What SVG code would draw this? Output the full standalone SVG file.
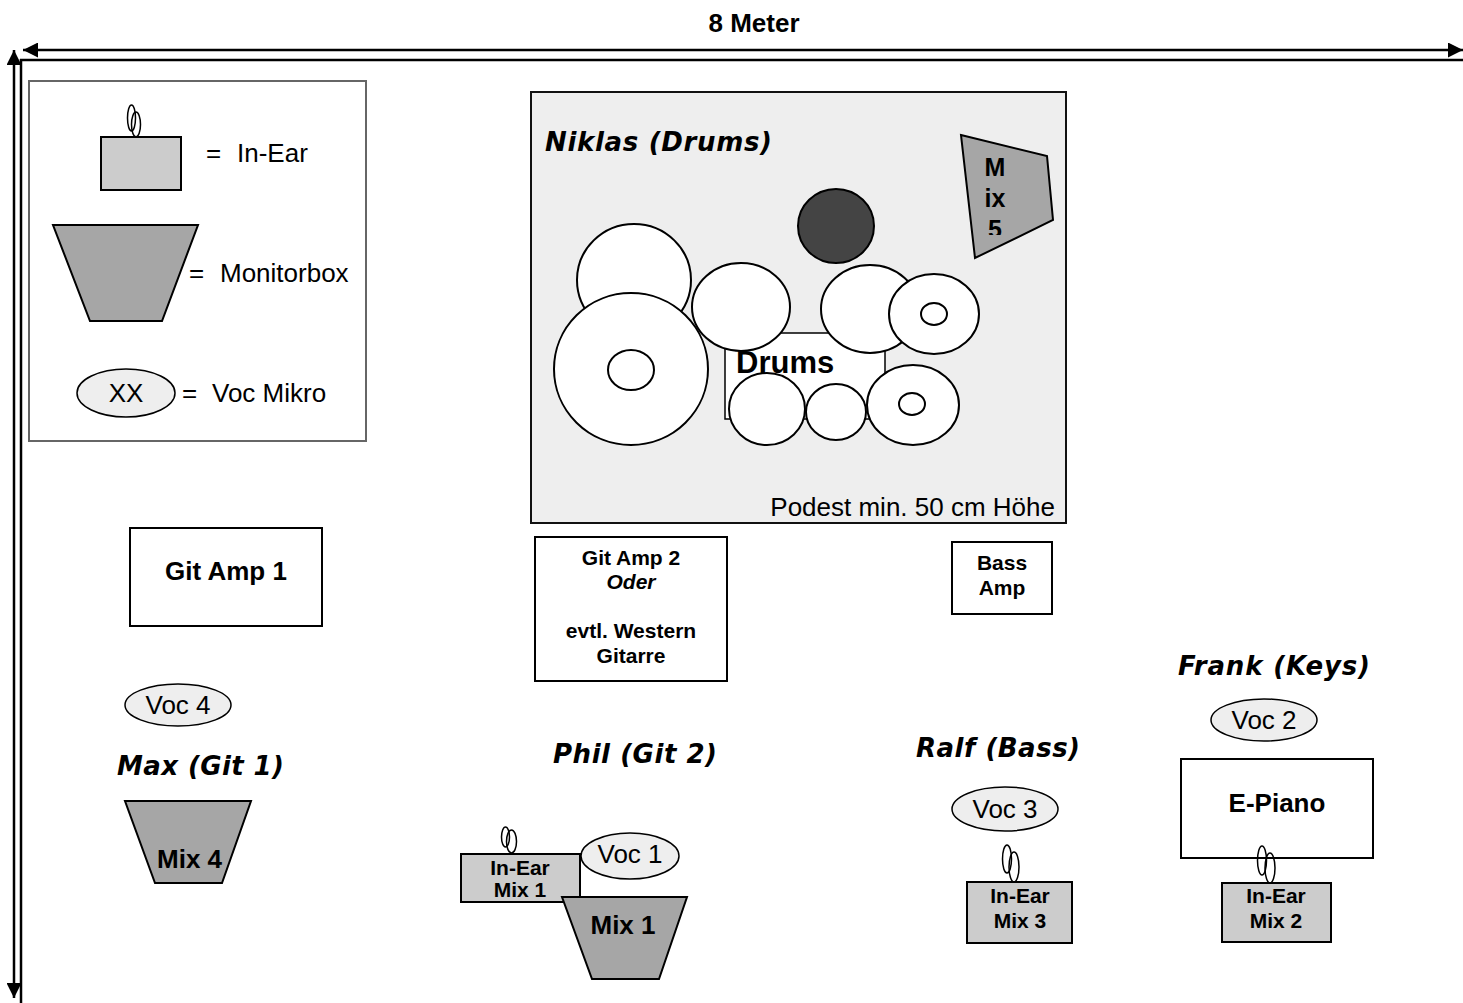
<svg xmlns="http://www.w3.org/2000/svg" width="1463" height="1003" viewBox="0 0 1463 1003">
<defs>
<marker id="arr" viewBox="0 0 10 10" refX="10" refY="5" markerWidth="15" markerHeight="15" markerUnits="userSpaceOnUse" orient="auto-start-reverse">
<path d="M0,0 L10,5 L0,10 z" fill="#000"/>
</marker>
<clipPath id="mix5text"><rect x="950" y="130" width="110" height="105"/></clipPath>
<style>
.box{fill:#fff;stroke:#000;stroke-width:2}
.inear{fill:#ccc;stroke:#000;stroke-width:2}
.mon{fill:#a6a6a6;stroke:#000;stroke-width:2}
.voc{fill:#eee;stroke:#000;stroke-width:1.5}
.drum{fill:#fff;stroke:#000;stroke-width:2}
.ear{fill:none;stroke:#000;stroke-width:1.5}
.t{font-family:"Liberation Sans",Arial,sans-serif;fill:#000;font-size:26px}
.b{font-weight:bold}
.c{text-anchor:middle}
.s21{font-size:21px}
.s25{font-size:25px}
.s31{font-size:31px}
.p{font-family:"DejaVu Sans",Verdana,sans-serif;font-weight:bold;font-style:italic;font-size:26px;fill:#000}
.dim{stroke:#000;stroke-width:2.5;fill:none}
</style>
</defs>
<rect width="1463" height="1003" fill="#fff"/>

<g id="dimensions">
<line class="dim" x1="23" y1="50" x2="1463" y2="50" marker-start="url(#arr)" marker-end="url(#arr)"/>
<line class="dim" x1="14" y1="50" x2="14" y2="998" marker-start="url(#arr)" marker-end="url(#arr)"/>
<line x1="20" y1="60" x2="1463" y2="60" stroke="#000" stroke-width="2.5"/>
<line x1="21" y1="59" x2="21" y2="1003" stroke="#000" stroke-width="2.5"/>
<text class="t b c" x="754" y="32">8 Meter</text>
</g>

<g id="legend">
<rect x="29" y="81" width="337" height="360" fill="#fff" stroke="#666" stroke-width="2"/>
<ellipse class="ear" cx="131.5" cy="118" rx="4" ry="13"/>
<ellipse class="ear" cx="136" cy="124.5" rx="4.5" ry="12.5"/>
<rect class="inear" x="101" y="137" width="80" height="53"/>
<text class="t" x="206" y="162">=</text>
<text class="t" x="237" y="162">In-Ear</text>
<polygon class="mon" points="53,225 198,225 162,321 90,321"/>
<text class="t" x="189" y="282">=</text>
<text class="t" x="220" y="282">Monitorbox</text>
<ellipse class="voc" cx="126" cy="393" rx="49" ry="24"/>
<text class="t c" x="126" y="402">XX</text>
<text class="t" x="182" y="402">=</text>
<text class="t" x="212" y="402">Voc Mikro</text>
</g>

<g id="drums">
<rect x="531" y="92" width="535" height="431" fill="#eee" stroke="#111" stroke-width="2"/>
<text class="p" x="545" y="151" textLength="227">Niklas (Drums)</text>
<ellipse cx="836" cy="226" rx="38" ry="37" fill="#444" stroke="#000" stroke-width="2"/>
<polygon class="mon" points="961,135 1047,156 1053,220 975,258"/>
<g clip-path="url(#mix5text)">
<text class="t b c s25" x="995" y="176">M</text>
<text class="t b c s25" x="995" y="207">ix</text>
<text class="t b c s25" x="995" y="238">5</text>
</g>
<ellipse class="drum" cx="634" cy="280" rx="57" ry="56"/>
<ellipse class="drum" cx="631" cy="369" rx="77" ry="76"/>
<ellipse class="drum" cx="631" cy="370" rx="23" ry="20"/>
<rect x="725" y="333" width="160" height="86" fill="#fff" stroke="#000" stroke-width="1.5"/>
<ellipse class="drum" cx="741" cy="307" rx="49" ry="44"/>
<ellipse class="drum" cx="870" cy="309" rx="49" ry="44"/>
<ellipse class="drum" cx="934" cy="314" rx="45" ry="40"/>
<ellipse class="drum" cx="934" cy="314" rx="13" ry="11"/>
<ellipse class="drum" cx="767" cy="409" rx="38" ry="36"/>
<ellipse class="drum" cx="836" cy="412" rx="30" ry="28"/>
<ellipse class="drum" cx="913" cy="405" rx="46" ry="40"/>
<ellipse class="drum" cx="912" cy="404" rx="13" ry="11"/>
<text class="t b s31" x="736" y="373">Drums</text>
<text class="t" x="1055" y="516" text-anchor="end">Podest min. 50 cm Höhe</text>
</g>

<g id="git-amp-1">
<rect class="box" x="130" y="528" width="192" height="98"/>
<text class="t b c" x="226" y="580">Git Amp 1</text>
</g>

<g id="git-amp-2">
<rect class="box" x="535" y="537" width="192" height="144"/>
<text class="t b c s21" x="631" y="565">Git Amp 2</text>
<text class="t b c s21" x="631" y="589" font-style="italic">Oder</text>
<text class="t b c s21" x="631" y="638">evtl. Western</text>
<text class="t b c s21" x="631" y="663">Gitarre</text>
</g>

<g id="bass-amp">
<rect class="box" x="952" y="542" width="100" height="72"/>
<text class="t b c s21" x="1002" y="570">Bass</text>
<text class="t b c s21" x="1002" y="595">Amp</text>
</g>

<g id="max">
<ellipse class="voc" cx="178" cy="705" rx="53" ry="21"/>
<text class="t c" x="178" y="714">Voc 4</text>
<text class="p" x="117" y="775" textLength="167">Max (Git 1)</text>
<polygon class="mon" points="125,801 251,801 222,883 155,883"/>
<text class="t b" x="157" y="868">Mix 4</text>
</g>

<g id="phil">
<text class="p" x="553" y="763" textLength="164">Phil (Git 2)</text>
<ellipse class="ear" cx="505.5" cy="837" rx="4" ry="10"/>
<ellipse class="ear" cx="511.5" cy="841.5" rx="5" ry="11.5"/>
<rect class="inear" x="461" y="854" width="119" height="48"/>
<text class="t b c s21" x="520" y="875">In-Ear</text>
<text class="t b c s21" x="520" y="897">Mix 1</text>
<ellipse class="voc" cx="630" cy="856" rx="49" ry="23"/>
<text class="t c" x="630" y="863">Voc 1</text>
<polygon class="mon" points="562,897 687,897 659,979 592,979"/>
<text class="t b c" x="623" y="934">Mix 1</text>
</g>

<g id="ralf">
<text class="p" x="916" y="757" textLength="164">Ralf (Bass)</text>
<ellipse class="voc" cx="1005" cy="809" rx="53" ry="22"/>
<text class="t c" x="1005" y="818">Voc 3</text>
<ellipse class="ear" cx="1007" cy="859" rx="4.5" ry="14"/>
<ellipse class="ear" cx="1014" cy="867" rx="5" ry="15"/>
<rect class="inear" x="967" y="882" width="105" height="61"/>
<text class="t b c s21" x="1020" y="903">In-Ear</text>
<text class="t b c s21" x="1020" y="928">Mix 3</text>
</g>

<g id="frank">
<text class="p" x="1178" y="675" textLength="192">Frank (Keys)</text>
<ellipse class="voc" cx="1264" cy="720" rx="53" ry="21"/>
<text class="t c" x="1264" y="729">Voc 2</text>
<rect class="box" x="1181" y="759" width="192" height="99"/>
<text class="t b c" x="1277" y="812">E-Piano</text>
<ellipse class="ear" cx="1262" cy="860.5" rx="4.5" ry="14.5"/>
<ellipse class="ear" cx="1270" cy="868" rx="5" ry="15"/>
<rect class="inear" x="1222" y="883" width="109" height="59"/>
<text class="t b c s21" x="1276" y="903">In-Ear</text>
<text class="t b c s21" x="1276" y="928">Mix 2</text>
</g>
</svg>
